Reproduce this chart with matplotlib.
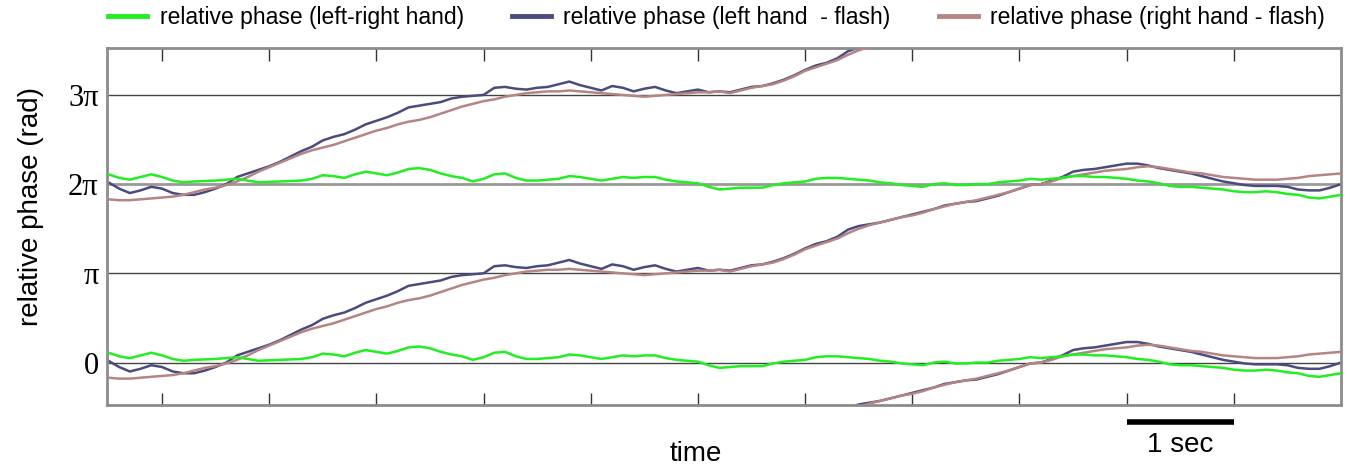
import numpy as np
import matplotlib
matplotlib.use("Agg")
import matplotlib.pyplot as plt
import matplotlib.transforms as mtransforms

# sample times (s), one reading every 0.1 s
t = np.round(np.arange(0.5, 12.05, 0.1), 1)

lr_hand = [0.11, 0.07, 0.05, 0.08, 0.11, 0.08, 0.04, 0.02, 0.03, 0.035,
           0.04, 0.05, 0.06, 0.04, 0.02, 0.025, 0.03, 0.035, 0.04, 0.06,
           0.10, 0.09, 0.07, 0.11, 0.14, 0.12, 0.10, 0.13, 0.17,
           0.18, 0.16, 0.12, 0.09, 0.07, 0.03, 0.06, 0.11, 0.12, 0.07,
           0.04, 0.04, 0.05, 0.06, 0.09, 0.08, 0.06, 0.04, 0.06, 0.08,
           0.07, 0.08, 0.08, 0.05, 0.03, 0.02, 0.01, -0.03, -0.06,
           -0.05, -0.04, -0.04, -0.04, -0.01, 0.01, 0.02, 0.03, 0.06, 0.07,
           0.07, 0.06, 0.05, 0.04, 0.02, 0.01, -0.01, -0.02, -0.03, 0.0,
           0.01, -0.01, -0.01, 0.0, 0.0, 0.02, 0.03, 0.04, 0.06,
           0.05, 0.06, 0.07, 0.09, 0.09, 0.08, 0.08, 0.07, 0.06, 0.04,
           0.03, 0.01, -0.02, -0.03, -0.03, -0.04, -0.05, -0.06, -0.08, -0.09,
           -0.09, -0.08, -0.09, -0.11, -0.12, -0.15, -0.16, -0.14, -0.12]

left_flash = [0.02, -0.05, -0.10, -0.07, -0.03, -0.05, -0.10, -0.12, -0.12, -0.09,
              -0.05, 0.00, 0.08, 0.12, 0.16, 0.20, 0.25, 0.31, 0.37, 0.42,
              0.49, 0.53, 0.56, 0.61, 0.67, 0.71, 0.75, 0.80, 0.86,
              0.88, 0.90, 0.92, 0.96, 0.98, 0.99, 1.00, 1.08, 1.09, 1.07,
              1.06, 1.08, 1.09, 1.12, 1.15, 1.11, 1.08, 1.05, 1.10, 1.08,
              1.04, 1.07, 1.09, 1.05, 1.02, 1.04, 1.06, 1.03, 1.04,
              1.03, 1.06, 1.09, 1.10, 1.13, 1.17, 1.22, 1.28, 1.33, 1.36,
              1.41, 1.49, 1.53, 1.55, 1.57, 1.60, 1.63, 1.66, 1.69, 1.72,
              1.76, 1.78, 1.80, 1.81, 1.84, 1.87, 1.91, 1.95, 1.99,
              2.00, 2.04, 2.08, 2.14, 2.16, 2.17, 2.19, 2.21, 2.23, 2.23,
              2.21, 2.18, 2.16, 2.14, 2.12, 2.09, 2.06, 2.03, 2.01, 1.99,
              1.98, 1.98, 1.98, 1.97, 1.94, 1.93, 1.93, 1.96, 2.00]

right_flash = [-0.17, -0.18, -0.18, -0.17, -0.16, -0.15, -0.14, -0.12, -0.09, -0.06,
               -0.04, -0.01, 0.03, 0.08, 0.14, 0.19, 0.24, 0.29, 0.34, 0.38,
               0.41, 0.44, 0.48, 0.52, 0.56, 0.60, 0.63, 0.67, 0.70,
               0.72, 0.75, 0.79, 0.83, 0.87, 0.90, 0.93, 0.95, 0.98, 1.00,
               1.02, 1.03, 1.04, 1.04, 1.05, 1.04, 1.03, 1.02, 1.01, 1.00,
               0.99, 0.98, 0.99, 1.00, 1.01, 1.02, 1.03, 1.03, 1.04,
               1.02, 1.05, 1.08, 1.10, 1.12, 1.16, 1.21, 1.27, 1.31, 1.35,
               1.39, 1.45, 1.50, 1.54, 1.57, 1.60, 1.63, 1.65, 1.68, 1.72,
               1.75, 1.78, 1.80, 1.82, 1.85, 1.88, 1.91, 1.95, 1.99,
               2.00, 2.03, 2.07, 2.09, 2.11, 2.13, 2.15, 2.16, 2.17, 2.19,
               2.20, 2.19, 2.17, 2.15, 2.13, 2.12, 2.10, 2.08, 2.07, 2.06,
               2.05, 2.05, 2.05, 2.06, 2.07, 2.09, 2.10, 2.11, 2.12]

labels = ["relative phase (left-right hand)",
          "relative phase (left hand  - flash)",
          "relative phase (right hand - flash)"]
colors = ["#22ee22", "#4b4b7e", "#b58584"]
ytick_labels = ["0", "\u03c0", "2\u03c0", "3\u03c0"]

sans = ["Liberation Sans", "DejaVu Sans"]
serif = ["Liberation Serif", "DejaVu Serif"]

fig = plt.figure(figsize=(13.58, 4.68), dpi=100)
ax = fig.add_axes([0.0788, 0.1346, 0.9087, 0.7628])

# phase grid lines
for k in range(4):
    if k == 2:
        ax.axhline(k, color="#999999", lw=2.0, zorder=1)
    else:
        ax.axhline(k, color="#444444", lw=1.0, zorder=1)

# each trace is drawn wrapped: copies shifted by -2pi, 0, +2pi
series = [lr_hand, left_flash, right_flash]
zorders = [4, 2, 3]
handles = []
for vals, c, lab, z in zip(series, colors, labels, zorders):
    v = np.array(vals)
    for off in (-2, 0, 2):
        ln, = ax.plot(t, v + off, color=c, lw=1.8, zorder=z)
        if off == 0:
            handles.append(ln)

ax.set_xlim(0.487, 12.0)
ax.set_ylim(-0.476, 3.526)

ax.set_xticks(np.arange(1, 12))
ax.tick_params(axis="x", direction="in", length=9, width=1, color="#333333",
               top=True, bottom=True, labelbottom=False)
ax.set_yticks([0, 1, 2, 3])
ax.set_yticklabels(ytick_labels, family=serif, fontsize=22)
ax.tick_params(axis="y", length=0, pad=6)

for s in ax.spines.values():
    s.set_color("#8c8c8c")
    s.set_linewidth(2)

ax.set_ylabel("relative phase (rad)", family=sans, fontsize=20)
ax.yaxis.set_label_coords(-0.051, 0.557)
ax.set_xlabel("time", family=sans, fontsize=20)
ax.xaxis.set_label_coords(0.477, -0.10)

# 1 second scale bar
trans = mtransforms.blended_transform_factory(ax.transData, ax.transAxes)
ax.plot([10, 11], [-0.048, -0.048], color="black", lw=4, transform=trans,
        clip_on=False, solid_capstyle="butt")
ax.text(10.5, -0.075, "1 sec", transform=trans, ha="center", va="top",
        family=sans, fontsize=20)

leg = fig.legend(handles, labels, loc="center left", bbox_to_anchor=(0.0795, 0.962),
                 ncol=3, frameon=False, prop={"family": sans, "size": 16.5},
                 borderpad=0, borderaxespad=0,
                 handlelength=1.7, handletextpad=0.55, columnspacing=2.1)
for h in leg.get_lines():
    h.set_linewidth(3.5)

fig.savefig("out.png", dpi=100)
